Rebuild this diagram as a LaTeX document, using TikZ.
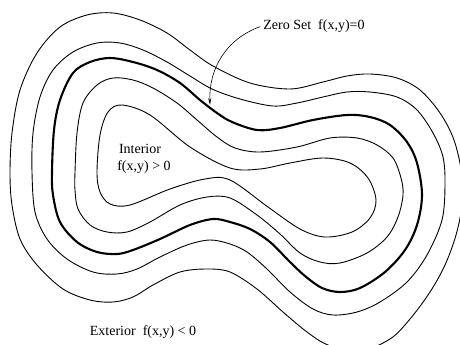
\documentclass[tikz,border=0pt]{standalone}
\usepackage{fontspec}
\setmainfont{Liberation Serif}
\usetikzlibrary{arrows.meta}

\begin{document}
\begin{tikzpicture}[x=1pt,y=-1pt]
        \tikzset{level/.style={line width=0.9pt, line join=round},
        zeroset/.style={line width=2.1pt, line join=round},
        txt/.style={inner sep=3pt, anchor=base, font=\fontsize{14}{16}\selectfont}}
        \useasboundingbox (0,0) rectangle (460,345);
        \clip (0,0) rectangle (460,345);
        \draw[level] plot[smooth cycle, tension=0.55] coordinates {(10,173) (12,133) (20,90) (37,53) (60,27) (87,15) (113,13) (140,20) (167,33) (190,50) (213,66) (250,83) (290,89) (323,82) (347,76) (370,74) (397,78) (420,90) (440,113) (454,140) (462,175) (462,205) (456,235) (445,265) (430,292) (410,319) (390,339) (358,352) (328,345) (307,332) (283,312) (257,289) (230,272) (207,269) (180,272) (153,285) (133,297) (113,302) (90,300) (63,289) (37,265) (20,239) (12,205)};
        \draw[level] plot[smooth cycle, tension=0.55] coordinates {(32,172) (33,133) (40,97) (53,70) (73,52) (97,43) (120,43) (143,50) (167,62) (190,76) (212,89) (240,99) (273,106) (297,103) (323,97) (347,92) (370,92) (397,97) (417,110) (433,133) (443,157) (445,185) (442,220) (427,255) (407,282) (380,302) (357,312) (333,315) (313,309) (290,292) (267,269) (247,252) (230,244) (210,240) (187,245) (160,257) (137,269) (117,274) (93,272) (67,259) (47,239) (35,212)};
        \draw[zeroset] plot[smooth cycle, tension=0.55] coordinates {(52,172) (54,130) (60,100) (73,73) (90,62) (110,58) (133,62) (157,70) (180,83) (200,100) (217,113) (232,122) (257,130) (280,128) (313,120) (347,115) (370,117) (390,125) (407,142) (417,163) (422,195) (417,225) (405,250) (385,272) (360,288) (340,292) (322,288) (305,276) (290,262) (270,242) (250,229) (230,222) (213,219) (190,225) (160,239) (133,250) (117,254) (97,252) (77,242) (60,222) (53,195)};
        \draw[level] plot[smooth cycle, tension=0.55] coordinates {(75,172) (77,133) (83,103) (97,85) (113,78) (133,80) (153,88) (177,103) (197,120) (217,137) (235,148) (260,152) (297,147) (330,138) (357,138) (377,145) (393,158) (401,178) (403,195) (398,217) (387,237) (367,253) (340,263) (320,262) (300,253) (280,234) (257,215) (230,198) (207,197) (180,205) (150,222) (127,232) (107,232) (90,225) (78,209) (75,190)};
        \draw[level] plot[smooth cycle, tension=0.55] coordinates {(97,172) (100,135) (108,112) (122,105) (150,115) (190,147) (230,168) (260,169) (290,163) (323,158) (350,163) (368,178) (376,200) (370,218) (352,232) (325,237) (300,229) (268,207) (230,180) (205,179) (170,189) (130,205) (110,204) (100,192)};
        \node[txt] (zero) at (314,30) {Zero Set\ \ f(x,y)=0};
        \node[txt] (int) at (140,153) {Interior};
        \node[txt] (intval) at (144,170) {f(x,y) > 0};
        \node[txt] (ext) at (143,335) {Exterior\ \ f(x,y) < 0};
        \coordinate (z) at (210,105);
        \draw[line width=0.6pt, -{Stealth[length=7pt,width=3pt]}] (zero.west) to[out=200,in=92] (z);
\end{tikzpicture}
\end{document}
